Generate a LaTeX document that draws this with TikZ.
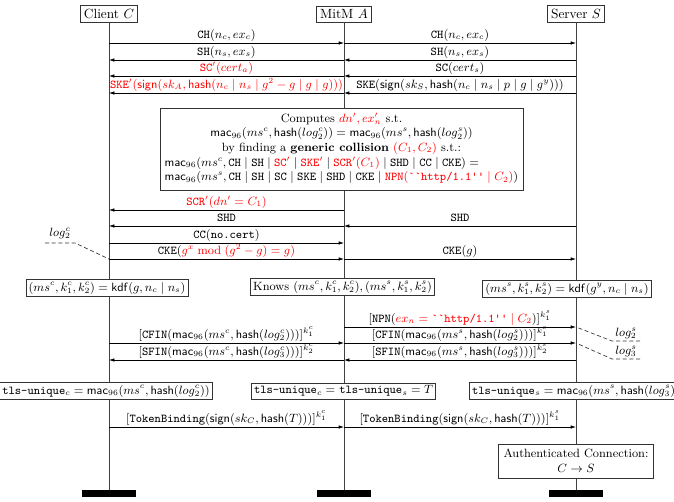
\documentclass[tikz,border=0pt]{standalone}
\usetikzlibrary{arrows.meta}
\begin{document}
\begin{tikzpicture}[x=0.75pt,y=-0.75pt,
  hdr/.style={draw=black!80, line width=0.6pt, fill=white, inner sep=2.5pt, font=\normalsize},
  box/.style={draw=black!80, line width=0.6pt, fill=white, inner sep=2pt, font=\small},
  msg/.style={-{Latex[length=4pt,width=2.6pt]}, line width=0.5pt},
  lbl/.style={above, inner sep=1pt, font=\small, text height=1.75ex, text depth=0.55ex},
  life/.style={draw=black!75, line width=0.7pt},
  bar/.style={fill=black, minimum width=40.5pt, minimum height=5.25pt, inner sep=0pt},
  ann/.style={dash pattern=on 3pt off 2pt, line width=0.5pt, draw=black!80}]
\useasboundingbox (0,0) rectangle (674,502);

% headers
\node[hdr] (client) at (109,14) {Client $C$};
\node[hdr] (mitm) at (344,14) {MitM $A$};
\node[hdr] (server) at (576,14) {Server $S$};
% bars
\node[bar] (cbar) at (109,493.5) {};
\node[bar] (abar) at (344,493.5) {};
\node[bar] (sbar) at (576,493.5) {};
% lifelines
\draw[life] (client.south) -- (cbar.north);
\draw[life] (mitm.south) -- (abar.north);
\draw[life] (server.south) -- (sbar.north);

\foreach \n/\y in {1/43,2/60,3/76,4/93,5/210,6/226,7/243,8/259,9/327,10/343,11/360,12/427}{
  \coordinate (C\n) at (109,\y);
  \coordinate (A\n) at (344,\y);
  \coordinate (S\n) at (576,\y);
}

% messages
\draw[msg] (C1) -- node[lbl] {\texttt{CH}$(n_c, ex_c)$} (A1);
\draw[msg] (A1) -- node[lbl] {\texttt{CH}$(n_c, ex_c)$} (S1);
\draw[msg] (A2) -- node[lbl] {\texttt{SH}$(n_s, ex_s)$} (C2);
\draw[msg] (S2) -- node[lbl] {\texttt{SH}$(n_s, ex_s)$} (A2);
\draw[msg] (A3) -- node[lbl, text=red] {\texttt{SC}$'(cert_a)$} (C3);
\draw[msg] (S3) -- node[lbl] {\texttt{SC}$(cert_s)$} (A3);
\draw[msg] (A4) -- node[lbl, text=red] {\texttt{SKE}$'(\mathsf{sign}(sk_A, \mathsf{hash}(n_c \mid n_s \mid g^2-g \mid g \mid g)))$} (C4);
\draw[msg] (S4) -- node[lbl] {\texttt{SKE}$(\mathsf{sign}(sk_S, \mathsf{hash}(n_c \mid n_s \mid p \mid g \mid g^y)))$} (A4);

% compute box
\node[box, inner sep=3.5pt, align=center] (comp) at (341.5,149) {%
Computes \textcolor{red}{$dn', ex'_n$} s.t.\\
$\mathsf{mac}_{96}(ms^c, \mathsf{hash}(log_2^c)) = \mathsf{mac}_{96}(ms^s, \mathsf{hash}(log_2^s))$\\
by finding a \textbf{generic collision} \textcolor{red}{$(C_1, C_2)$} s.t.:\\
\begin{tabular}{@{}l@{}}
$\mathsf{mac}_{96}(ms^c, \texttt{CH} \mid \texttt{SH} \mid \textcolor{red}{\texttt{SC}'} \mid \textcolor{red}{\texttt{SKE}'} \mid \textcolor{red}{\texttt{SCR}'(C_1)} \mid \texttt{SHD} \mid \texttt{CC} \mid \texttt{CKE}) =$\\
$\mathsf{mac}_{96}(ms^s, \texttt{CH} \mid \texttt{SH} \mid \texttt{SC} \mid \texttt{SKE} \mid \texttt{SHD} \mid \texttt{CKE} \mid \textcolor{red}{\texttt{NPN}(\texttt{`{}`http/1.1'{}'} \mid C_2)})$
\end{tabular}};

\draw[msg] (A5) -- node[lbl, text=red] {\texttt{SCR}$'(dn' = C_1)$} (C5);
\draw[msg] (A6) -- node[lbl] {\texttt{SHD}} (C6);
\draw[msg] (S6) -- node[lbl] {\texttt{SHD}} (A6);
\draw[msg] (C7) -- node[lbl] {\texttt{CC}$($\texttt{no.cert}$)$} (A7);
\draw[msg] (C8) -- node[lbl] {\texttt{CKE}$($\textcolor{red}{$g^x \bmod (g^2 - g) = g)$}} (A8);
\draw[msg] (A8) -- node[lbl] {\texttt{CKE}$(g)$} (S8);

% log annotation left
\node[font=\small, inner sep=1pt] (l2c) at (60,233) {$log_2^c$};
\coordinate (l2cA) at (45,243);
\coordinate (l2cB) at (75,243);
\draw[ann] (l2cA) -- (l2cB) -- (C8);

% key boxes
\node[box] (kc) at (107,288) {$(ms^c, k_1^c, k_2^c) = \mathsf{kdf}(g, n_c \mid n_s)$};
\node[box] (ka) at (342.5,287) {Knows $(ms^c, k_1^c, k_2^c), (ms^s, k_1^s, k_2^s)$};
\node[box] (ks) at (567,289) {$(ms^s, k_1^s, k_2^s) = \mathsf{kdf}(g^y, n_c \mid n_s)$};

% finished
\draw[msg] (A9) -- node[lbl] {$[\texttt{NPN}($\textcolor{red}{$ex_n = \texttt{`{}`http/1.1'{}'} \mid C_2$}$)]^{k_1^s}$} (S9);
\draw[msg] (C10) -- node[lbl] {$[\texttt{CFIN}(\mathsf{mac}_{96}(ms^c, \mathsf{hash}(log_2^c)))]^{k_1^c}$} (A10);
\draw[msg] (A10) -- node[lbl] {$[\texttt{CFIN}(\mathsf{mac}_{96}(ms^s, \mathsf{hash}(log_2^s)))]^{k_1^s}$} (S10);
\draw[msg] (A11) -- node[lbl] {$[\texttt{SFIN}(\mathsf{mac}_{96}(ms^c, \mathsf{hash}(log_3^c)))]^{k_2^c}$} (C11);
\draw[msg] (S11) -- node[lbl] {$[\texttt{SFIN}(\mathsf{mac}_{96}(ms^s, \mathsf{hash}(log_3^s)))]^{k_2^s}$} (A11);

% log annotations right
\node[font=\small, inner sep=1pt] (l2s) at (626,333) {$log_2^s$};
\node[font=\small, inner sep=1pt] (l3s) at (626,351) {$log_3^s$};
\coordinate (l2sA) at (640,341);
\coordinate (l2sB) at (612,341);
\coordinate (l3sA) at (640,359);
\coordinate (l3sB) at (612,359);
\draw[ann] (l2sA) -- (l2sB) -- (S9);
\draw[ann] (l3sA) -- (l3sB) -- (S10);

% tls-unique boxes
\node[box] (tc) at (106,391) {\texttt{tls-unique}$_c = \mathsf{mac}_{96}(ms^c, \mathsf{hash}(log_2^c))$};
\node[box] (ta) at (343.5,391) {\texttt{tls-unique}$_c =$ \texttt{tls-unique}$_s = T$};
\node[box] (ts) at (576,391) {\texttt{tls-unique}$_s = \mathsf{mac}_{96}(ms^s, \mathsf{hash}(log_3^s))$};

\draw[msg] (C12) -- node[lbl] {$[\texttt{TokenBinding}(\mathsf{sign}(sk_C, \mathsf{hash}(T)))]^{k_1^c}$} (A12);
\draw[msg] (A12) -- node[lbl] {$[\texttt{TokenBinding}(\mathsf{sign}(sk_C, \mathsf{hash}(T)))]^{k_1^s}$} (S12);

\node[box, align=center, inner sep=4pt] (auth) at (576,461) {Authenticated Connection:\\ $C \rightarrow S$};
\end{tikzpicture}
\end{document}
